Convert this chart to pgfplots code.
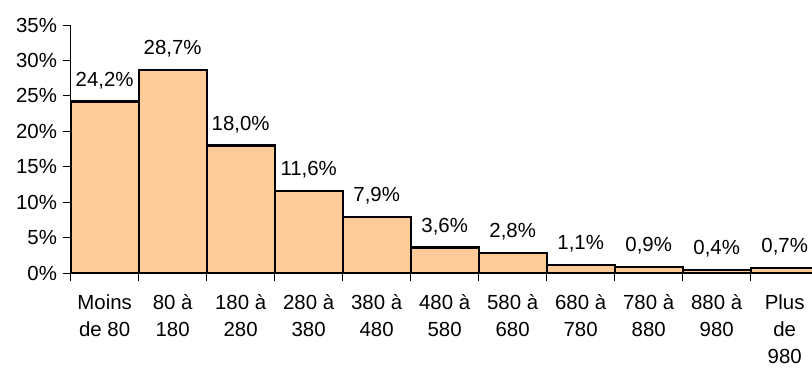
\documentclass[border=0pt]{standalone}
\usepackage{fontspec}
\setmainfont{Liberation Sans}
\usepackage{pgfplots}
\pgfplotsset{compat=1.18}
\definecolor{barfill}{HTML}{FFCC99}
\newcommand{\lbfont}{\fontsize{15.3pt}{20.2pt}\selectfont}
\begin{document}
\lbfont
\begin{tikzpicture}
\begin{axis}[
  scale only axis, width=561pt, height=186pt,
  xmin=0, xmax=11, ymin=0, ymax=35,
  clip=false,
  axis lines*=left,
  axis line style={black, line width=0.7pt},
  /pgf/number format/assume math mode=true,
  ytick={0,5,...,35},
  yticklabel={\pgfmathprintnumber{\tick}\%},
  minor ytick={0,5,...,35},
  xtick={0.5,1.5,...,10.5},
  xticklabels={Moins\\de 80, 80 à\\180, 180 à\\280, 280 à\\380, 380 à\\480, 480 à\\580, 580 à\\680, 680 à\\780, 780 à\\880, 880 à\\980, Plus\\de\\980},
  minor xtick={0,1,...,11},
  tick align=outside,
  major tick length=0pt,
  minor tick length=6pt,
  tick style={black, line width=0.6pt},
  xticklabel style={align=center, font=\lbfont, yshift=-11pt},
  yticklabel style={font=\lbfont, xshift=-5pt},
]
\addplot[ybar interval, fill=barfill, draw=black, line width=1.6pt]
  coordinates {(0,24.2)(1,28.7)(2,18.0)(3,11.6)(4,7.9)(5,3.6)(6,2.8)(7,1.1)(8,0.9)(9,0.4)(10,0.7)(11,0.7)};
\addplot[draw=none, mark=none, point meta=y,
  nodes near coords={\pgfmathprintnumber[fixed, fixed zerofill, precision=1, use comma]{\pgfplotspointmeta}\%},
  nodes near coords style={anchor=base, yshift=11.5pt, font=\lbfont}]
  coordinates {(0.5,24.2)(1.5,28.7)(2.5,18.0)(3.5,11.6)(4.5,7.9)(5.5,3.6)(6.5,2.8)(7.5,1.1)(8.5,0.9)(9.5,0.4)(10.5,0.7)};
\end{axis}
\pgfresetboundingbox
\path[use as bounding box] (-53pt,-70.5pt) rectangle (556pt,204.75pt);
\end{tikzpicture}
\end{document}
